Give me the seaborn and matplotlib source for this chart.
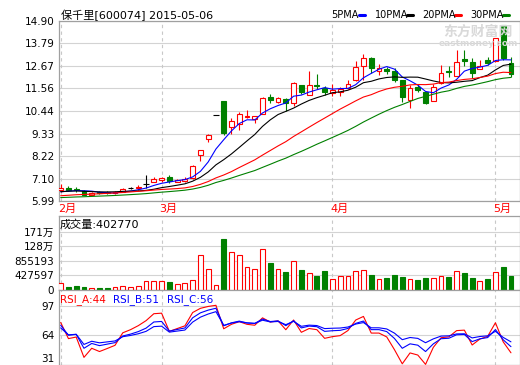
import numpy as np
import pandas as pd
import matplotlib
matplotlib.use("Agg")
import matplotlib.pyplot as plt
import seaborn as sns

# ---------------- data ----------------
# closes before the visible window (estimated, only used to warm up MA / RSI)
pre_close = [6.10, 6.05, 5.98, 5.92, 5.90, 5.95, 5.93, 5.97, 6.00, 6.00,
             6.02, 6.00, 6.05, 6.08, 6.03, 6.00, 6.04, 6.08, 6.10, 6.10,
             6.25, 6.40, 6.50, 6.55, 6.55, 6.40, 6.36, 6.36, 6.50]

opens = [6.53, 6.63, 6.58, 6.48, 6.30, 6.45, 6.45, 6.41, 6.46, 6.63,
         6.61, 6.81, 6.94, 7.04, 7.16, 6.94, 6.96, 7.11, 8.29, 9.07,
         10.23, 10.94, 9.64, 9.81, 10.13, 10.03, 10.31, 11.14, 10.87, 11.06,
         10.86, 11.72, 11.26, 11.75, 11.58, 11.34, 11.38, 11.56, 11.97, 12.68,
         13.08, 12.43, 12.51, 12.41, 11.99, 10.99, 11.65, 11.37, 10.96, 11.82,
         12.43, 12.20, 13.01, 12.85, 12.53, 12.95, 12.90, 14.69, 12.81]
highs = [6.83, 6.71, 6.66, 6.52, 6.43, 6.47, 6.47, 6.48, 6.62, 6.68,
         6.80, 7.28, 7.16, 7.20, 7.30, 7.08, 7.16, 7.76, 8.52, 9.32,
         10.23, 10.96, 10.09, 10.41, 10.51, 10.20, 11.13, 11.27, 11.14, 11.08,
         11.88, 11.75, 12.41, 12.30, 11.67, 11.80, 11.63, 11.97, 12.93, 13.26,
         13.10, 12.76, 12.63, 12.55, 12.00, 11.73, 11.77, 11.40, 11.77, 12.73,
         12.66, 13.44, 13.47, 13.06, 12.98, 13.14, 14.08, 14.72, 13.10]
lows = [6.46, 6.48, 6.45, 6.28, 6.28, 6.35, 6.35, 6.35, 6.44, 6.56,
        6.55, 6.65, 6.91, 6.94, 6.89, 6.92, 6.94, 7.09, 7.95, 8.90,
        10.23, 9.28, 9.32, 9.52, 10.10, 9.84, 10.28, 10.84, 10.84, 10.44,
        10.69, 11.27, 11.24, 11.55, 11.22, 11.19, 11.17, 11.52, 11.94, 11.97,
        12.33, 12.22, 12.30, 11.88, 10.89, 10.57, 11.37, 10.77, 10.92, 11.77,
        12.15, 12.17, 12.65, 12.10, 12.50, 12.73, 12.88, 12.98, 12.15]
closes = [6.63, 6.51, 6.53, 6.31, 6.41, 6.37, 6.40, 6.43, 6.58, 6.63,
          6.70, 6.81, 7.08, 7.11, 6.96, 7.02, 7.08, 7.74, 8.49, 9.28,
          10.23, 9.37, 9.93, 10.31, 10.21, 10.18, 11.11, 10.97, 11.11, 10.85,
          11.85, 11.38, 11.72, 11.68, 11.38, 11.47, 11.52, 11.77, 12.60, 13.09,
          12.55, 12.55, 12.43, 11.97, 11.15, 11.60, 11.48, 10.86, 11.65, 12.31,
          12.37, 12.86, 12.90, 12.31, 12.65, 12.81, 14.05, 13.09, 12.28]
volumes = [195000, 88000, 117000, 88000, 59000, 59000, 59000, 88000, 117000, 88000,
           117000, 264000, 264000, 264000, 244000, 176000, 205000, 293000, 1025000, 625000,
           146000, 1503000, 1113000, 1025000, 674000, 615000, 1191000, 800000, 605000, 537000,
           840000, 586000, 488000, 410000, 556000, 312000, 400000, 400000, 547000, 576000,
           439000, 312000, 351000, 439000, 381000, 312000, 293000, 351000, 342000, 400000,
           381000, 556000, 498000, 351000, 264000, 322000, 527000, 674000, 402770]

month_labels = ["2月", "3月", "4月", "5月"]
month_start = [0, 13, 35, 56]
price_ticks = [14.90, 13.79, 12.67, 11.56, 10.44, 9.33, 8.22, 7.10, 5.99]
vol_ticks = [0, 427597, 855193, 1282790, 1710386]
vol_tick_labels = ["0", "427597", "855193", "128万", "171万"]
rsi_ticks = [97, 64, 31]
ma_periods = [5, 10, 20, 30]
ma_names = ["5PMA", "10PMA", "20PMA", "30PMA"]
rsi_periods = [6, 12, 24]
title_text = "保千里[600074] 2015-05-06"

# ---------------- style ----------------
sns.set_style("white")
plt.rcParams["font.family"] = ["DejaVu Sans", "Noto Sans CJK SC"]
RED = "#FF0000"
GREEN = "#008000"
BLUE = "#0000FF"
GRID = "#D3D3D3"
BORDER = "#A0A0A0"
ma_colors = [BLUE, "#000000", RED, GREEN]

W, H = 520, 365
fig = plt.figure(figsize=(W / 100, H / 100), dpi=100)
fig.patch.set_facecolor("white")

def fx(x):
    return x / W

def fy(y):
    return 1 - y / H

L, R = 58.5, 519.5
ax_p = fig.add_axes([fx(L), fy(201), fx(R) - fx(L), (201 - 21) / H])
ax_v = fig.add_axes([fx(L), fy(290), fx(R) - fx(L), (290 - 216) / H])
ax_r = fig.add_axes([fx(L), fy(364.5), fx(R) - fx(L), (364.5 - 290) / H])

n = len(closes)
x = np.arange(n)
xlim = (-0.28, n - 1 + 1.1)

all_close = pd.Series(pre_close + closes, dtype=float)
npre = len(pre_close)

for ax in (ax_p, ax_v, ax_r):
    ax.set_xlim(*xlim)
    ax.set_xticks([])
    for s in ax.spines.values():
        s.set_color(BORDER)
        s.set_linewidth(0.9)
    ax.tick_params(axis="y", length=0, pad=3, labelsize=7.5, colors="black")
    for m in month_start:
        ax.axvline(m, color="#C8C8C8", lw=0.8, ls=(0, (3, 3)), zorder=1)

# ---------------- price panel ----------------
ax_p.set_ylim(5.99, 14.90)
ax_p.set_yticks(price_ticks)
ax_p.set_yticklabels([f"{t:.2f}" for t in price_ticks])
for t in price_ticks:
    ax_p.axhline(t, color=GRID, lw=0.8, zorder=0)

bw = 0.62
for i in range(n):
    o, h, l, c = opens[i], highs[i], lows[i], closes[i]
    if c > o:
        col, face = RED, "white"
    elif c < o:
        col, face = GREEN, GREEN
    else:
        col, face = "black", "black"
    if c != o:
        ax_p.vlines(i, l, h, color=col, lw=0.8, zorder=3)
        ax_p.bar(i, abs(c - o), bottom=min(o, c), width=bw, facecolor=face,
                 edgecolor=col, linewidth=0.8, zorder=4)
    else:
        ax_p.vlines(i, l, h, color="black", lw=0.8, zorder=3)
        ax_p.hlines(o, i - 0.36, i + 0.36, color="black", lw=0.8, zorder=4)

for p, col in zip(ma_periods, ma_colors):
    ma = all_close.rolling(p).mean().iloc[npre:].to_numpy()
    sns.lineplot(x=x, y=ma, ax=ax_p, color=col, lw=0.8, zorder=5, legend=False)
ax_p.set_ylabel("")

# watermark
fig.text(fx(478), fy(32), "东方财富网", ha="center", va="center", fontsize=10,
         fontweight="bold", color="#D9D9D9", family=["Noto Sans CJK SC"], zorder=0)
fig.text(fx(478), fy(43), "eastmoney.com", ha="center", va="center", fontsize=6.5,
         fontweight="bold", color="#D9D9D9", zorder=0)

# title and legend
fig.text(fx(61), fy(15), title_text, ha="left", va="center", fontsize=8, color="black")
leg_x = [331, 375, 422, 470]
dash_x = [359, 407, 455, 503]
for name, lx, dx, col in zip(ma_names, leg_x, dash_x, ma_colors):
    fig.text(fx(lx), fy(15), name, ha="left", va="center", fontsize=7, color="black")
    fig.add_artist(plt.Line2D([fx(dx), fx(dx + 6)], [fy(15), fy(15)], color=col, lw=2.2))

# month labels
for m, lab in zip(month_start, month_labels):
    ax_p.text(m - 0.3, -0.042, lab, transform=ax_p.get_xaxis_transform(), ha="left",
              va="center", fontsize=8, color=RED, family=["DejaVu Sans", "Noto Sans CJK SC"])

# ---------------- volume panel ----------------
ax_v.set_ylim(0, 2175000)
ax_v.set_yticks(vol_ticks)
ax_v.set_yticklabels(vol_tick_labels)
for t in vol_ticks[1:]:
    ax_v.axhline(t, color=GRID, lw=0.8, zorder=0)
for i in range(n):
    o, c = opens[i], closes[i]
    if c < o:
        ax_v.bar(i, volumes[i], width=bw, facecolor=GREEN, edgecolor=GREEN, lw=0.8, zorder=3)
    else:
        ax_v.bar(i, volumes[i], width=bw, facecolor="white", edgecolor=RED, lw=0.8, zorder=3)
ax_v.text(0.002, 0.88, f"成交量:{volumes[-1]}", transform=ax_v.transAxes, ha="left",
          va="center", fontsize=8, color="black")

# ---------------- RSI panel ----------------
def rsi(series, period):
    d = series.diff().fillna(0)
    up = d.clip(lower=0).ewm(alpha=1 / period, adjust=False).mean()
    ab = d.abs().ewm(alpha=1 / period, adjust=False).mean()
    return (up / ab * 100).iloc[npre:].to_numpy()

ax_r.set_ylim(31, 114.7)
ax_r.set_yticks(rsi_ticks[:2])
ax_r.set_yticklabels([str(t) for t in rsi_ticks[:2]])
# lowest label sits just above the bottom edge so it stays readable
ax_r.text(-0.008, 0.005, str(rsi_ticks[2]), transform=ax_r.transAxes, ha="right",
          va="bottom", fontsize=7.5, color="black")
for t in rsi_ticks[:2]:
    ax_r.axhline(t, color=GRID, lw=0.8, zorder=0)
rsi_cols = [RED, BLUE, BLUE]
rsi_vals = []
for p, col in zip(rsi_periods, rsi_cols):
    r = rsi(all_close, p)
    rsi_vals.append(r)
    sns.lineplot(x=x, y=r, ax=ax_r, color=col, lw=0.8, zorder=4, legend=False)
ax_r.set_ylabel("")
rsi_names = ["RSI_A", "RSI_B", "RSI_C"]
rx = [60, 113, 167]
for name, r, col, px in zip(rsi_names, rsi_vals, rsi_cols, rx):
    fig.text(fx(px), fy(300), f"{name}:{r[-1]:.0f}", ha="left", va="center",
             fontsize=7.5, color=col)

fig.savefig("out.png", dpi=100)
